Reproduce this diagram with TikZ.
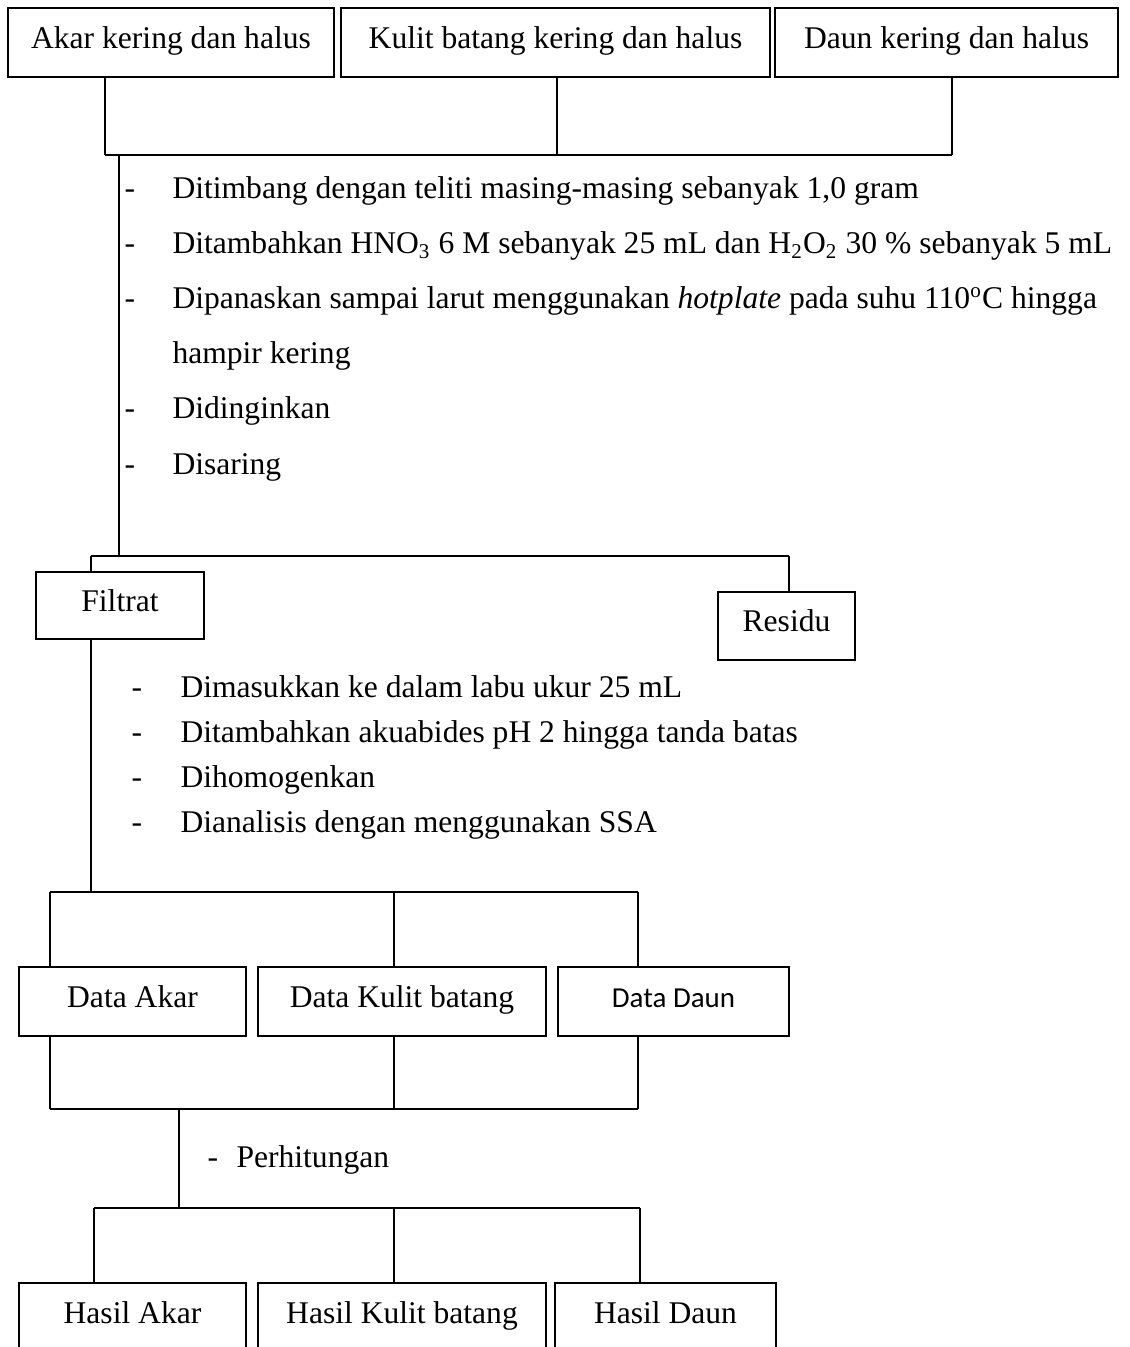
\documentclass[tikz,border=0pt]{standalone}
\usepackage{fontspec}
\setmainfont{Liberation Serif}
\newfontfamily\calibri{Carlito}

\tikzset{
  kotak/.style={draw, line width=0.75pt, inner sep=0pt, text height=7.6pt, text depth=3.2pt,
    font=\fontsize{12}{14}\selectfont},
  ukuran/.style 2 args={minimum width=#1*0.38pt, minimum height=#2*0.38pt},
  langkah/.style={anchor=base west, inner sep=0pt, font=\fontsize{12}{14}\selectfont},
  garis/.style={line width=0.75pt}
}

\begin{document}
\begin{tikzpicture}[x=0.38pt, y=-0.38pt]
            \useasboundingbox (0,0) rectangle (1129,1347);

            % bahan awal
            \node [kotak, ukuran={326}{69}] (akar) at (171,42.5) {Akar kering dan halus};
            \node [kotak, ukuran={429}{69}] (kulit) at (555.5,42.5) {Kulit batang kering dan halus};
            \node [kotak, ukuran={343}{69}] (daun) at (946.5,42.5) {Daun kering dan halus};

            \coordinate (b1) at (105,155);
            \coordinate (b2) at (557,155);
            \coordinate (b3) at (952,155);
            \draw [garis] (b1 |- akar.south) -- (b1);
            \draw [garis] (b2 |- kulit.south) -- (b2);
            \draw [garis] (b3 |- daun.south) -- (b3);
            \draw [garis] (b1) -- (b3);

            % destruksi
            \node [langkah] (d1) at (124,199) {-};
            \node [langkah] (timbang) at (172,199) {Ditimbang dengan teliti masing-masing sebanyak 1,0 gram};
            \node [langkah] (d2) at (124,254) {-};
            \node [langkah] (tambah) at (172,254) {Ditambahkan HNO\textsubscript{3} 6 M sebanyak 25 mL dan H\textsubscript{2}O\textsubscript{2} 30 \% sebanyak 5 mL};
            \node [langkah] (d3) at (124,309) {-};
            \node [langkah] (panas) at (172,309) {Dipanaskan sampai larut menggunakan \textit{hotplate} pada suhu 110\textsuperscript{o}C hingga};
            \node [langkah] (panas2) at (172,364) {hampir kering};
            \node [langkah] (d4) at (124,419) {-};
            \node [langkah] (dingin) at (172,419) {Didinginkan};
            \node [langkah] (d5) at (124,474) {-};
            \node [langkah] (saring) at (172,474) {Disaring};

            \coordinate (s1) at (119,155);
            \coordinate (s2) at (119,556);
            \draw [garis] (s1) -- (s2);

            % penyaringan
            \coordinate (f1) at (91,556);
            \coordinate (r1) at (789,556);
            \draw [garis] (f1) -- (r1);
            \node [kotak, ukuran={168}{67}] (filtrat) at (120,605.5) {Filtrat};
            \node [kotak, ukuran={137}{68}] (residu) at (786.5,626) {Residu};
            \draw [garis] (f1) -- (f1 |- filtrat.north);
            \draw [garis] (r1) -- (r1 |- residu.north);

            \node [langkah] (e1) at (131,697) {-};
            \node [langkah] (ukur) at (180,697) {Dimasukkan ke dalam labu ukur 25 mL};
            \node [langkah] (e2) at (131,742) {-};
            \node [langkah] (akuabides) at (180,742) {Ditambahkan akuabides pH 2 hingga tanda batas};
            \node [langkah] (e3) at (131,787) {-};
            \node [langkah] (homogen) at (180,787) {Dihomogenkan};
            \node [langkah] (e4) at (131,832) {-};
            \node [langkah] (analisis) at (180,832) {Dianalisis dengan menggunakan SSA};

            \coordinate (s3) at (91,892);
            \draw [garis] (f1 |- filtrat.south) -- (s3);

            % data
            \coordinate (c1) at (50,892);
            \coordinate (c2) at (394,892);
            \coordinate (c3) at (638,892);
            \draw [garis] (c1) -- (c3);
            \node [kotak, ukuran={227}{69}] (dAkar) at (132.5,1001.5) {Data Akar};
            \node [kotak, ukuran={288}{69}] (dKulit) at (402,1001.5) {Data Kulit batang};
            \node [kotak, ukuran={231}{69}, font=\calibri\fontsize{11}{13}\selectfont] (dDaun) at (673.5,1001.5) {Data Daun};
            \draw [garis] (c1) -- (c1 |- dAkar.north);
            \draw [garis] (c2) -- (c2 |- dKulit.north);
            \draw [garis] (c3) -- (c3 |- dDaun.north);

            \coordinate (g1) at (50,1109);
            \coordinate (g2) at (394,1109);
            \coordinate (g3) at (638,1109);
            \draw [garis] (g1 |- dAkar.south) -- (g1);
            \draw [garis] (g2 |- dKulit.south) -- (g2);
            \draw [garis] (g3 |- dDaun.south) -- (g3);
            \draw [garis] (g1) -- (g3);

            % perhitungan
            \coordinate (s4) at (179,1109);
            \coordinate (s5) at (179,1208);
            \draw [garis] (s4) -- (s5);
            \node [langkah] (e5) at (207,1167) {-};
            \node [langkah] (hitung) at (236,1167) {Perhitungan};

            % hasil
            \coordinate (h1) at (94,1208);
            \coordinate (h2) at (394,1208);
            \coordinate (h3) at (640,1208);
            \draw [garis] (h1) -- (h3);
            \node [kotak, ukuran={227}{69}] (hAkar) at (132.5,1317.5) {Hasil Akar};
            \node [kotak, ukuran={288}{69}] (hKulit) at (402,1317.5) {Hasil Kulit batang};
            \node [kotak, ukuran={221}{69}] (hDaun) at (665.5,1317.5) {Hasil Daun};
            \draw [garis] (h1) -- (h1 |- hAkar.north);
            \draw [garis] (h2) -- (h2 |- hKulit.north);
            \draw [garis] (h3) -- (h3 |- hDaun.north);
        \end{tikzpicture}
\end{document}
